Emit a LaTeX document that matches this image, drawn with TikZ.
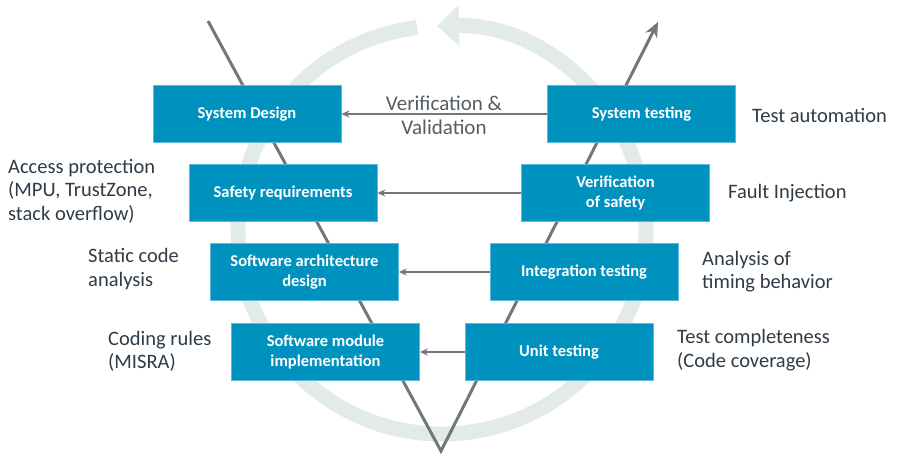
\documentclass[tikz,border=0pt]{standalone}
\usepackage{fontspec}
\setmainfont{Carlito}
\usetikzlibrary{arrows.meta}
\definecolor{boxblue}{HTML}{0092BF}
\definecolor{boxedge}{HTML}{5BBADB}
\definecolor{vgray}{HTML}{70777D}
\definecolor{ringgray}{HTML}{E3EBE8}
\definecolor{txtdark}{HTML}{2F3B45}
\definecolor{txtgray}{HTML}{555D64}
\tikzset{
  phase/.style={fill=boxblue,draw=boxedge,line width=0.8pt,minimum width=188pt,
    minimum height=57pt,inner sep=0pt,text=white,align=center,
    font=\fontsize{16.5}{20}\selectfont\bfseries},
  note/.style={anchor=west,align=left,inner sep=0pt,text=txtdark,
    font=\fontsize{20.5}{23.5}\selectfont},
  link/.style={draw=vgray,line width=1.4pt,-{Stealth[length=8pt,width=7pt]}},
}
\begin{document}
\begin{tikzpicture}[x=1pt,y=1pt]
		\useasboundingbox (0,0) rectangle (900,459);
		% ring with arrow
		\draw[ringgray,line width=15pt,-{Triangle[length=22pt,width=40pt]}]
		  (442,229) ++(97:204) arc[start angle=97,end angle=451.4,radius=204];
		% the V
		\coordinate (vl) at (208,438);
		\coordinate (vb) at (441,8);
		\coordinate (vr) at (658,437);
		\draw[vgray,line width=3pt,miter limit=20,-{Stealth[length=15pt,width=13pt]}] (vl) -- (vb) -- (vr);
		% phases
		\node[phase] (sd) at (247,345) {System Design};
		\node[phase] (sr) at (283,266) {Safety requirements};
		\node[phase] (sad) at (304.5,187) {Software architecture\\design};
		\node[phase] (smi) at (325.5,107) {Software module\\implementation};
		\node[phase] (st) at (641.5,345) {System testing};
		\node[phase] (vs) at (615.5,266) {Verification\\of safety};
		\node[phase] (it) at (584,187) {Integration testing};
		\node[phase] (ut) at (559,107) {Unit testing};
		\foreach \a/\b in {st/sd,vs/sr,it/sad,ut/smi}
		\draw[link] (\a) -- (\b);
		\node[align=center,text=txtgray,font=\fontsize{21}{24}\selectfont] (vv) at (444,344) {Verification \&\\Validation};
		% notes
		\node[note] (acc) at (8,268) {Access protection\\(MPU, TrustZone,\\stack overflow)};
		\node[note] (sca) at (88,190) {Static code\\analysis};
		\node[note] (cod) at (108,107.5) {Coding rules\\(MISRA)};
		\node[note] (tau) at (752,344) {Test automation};
		\node[note] (fin) at (728,266) {Fault Injection};
		\node[note] (tim) at (702,187.5) {Analysis of\\timing behavior};
		\node[note] (tco) at (677,109) {Test completeness\\(Code coverage)};
	    \end{tikzpicture}
\end{document}
